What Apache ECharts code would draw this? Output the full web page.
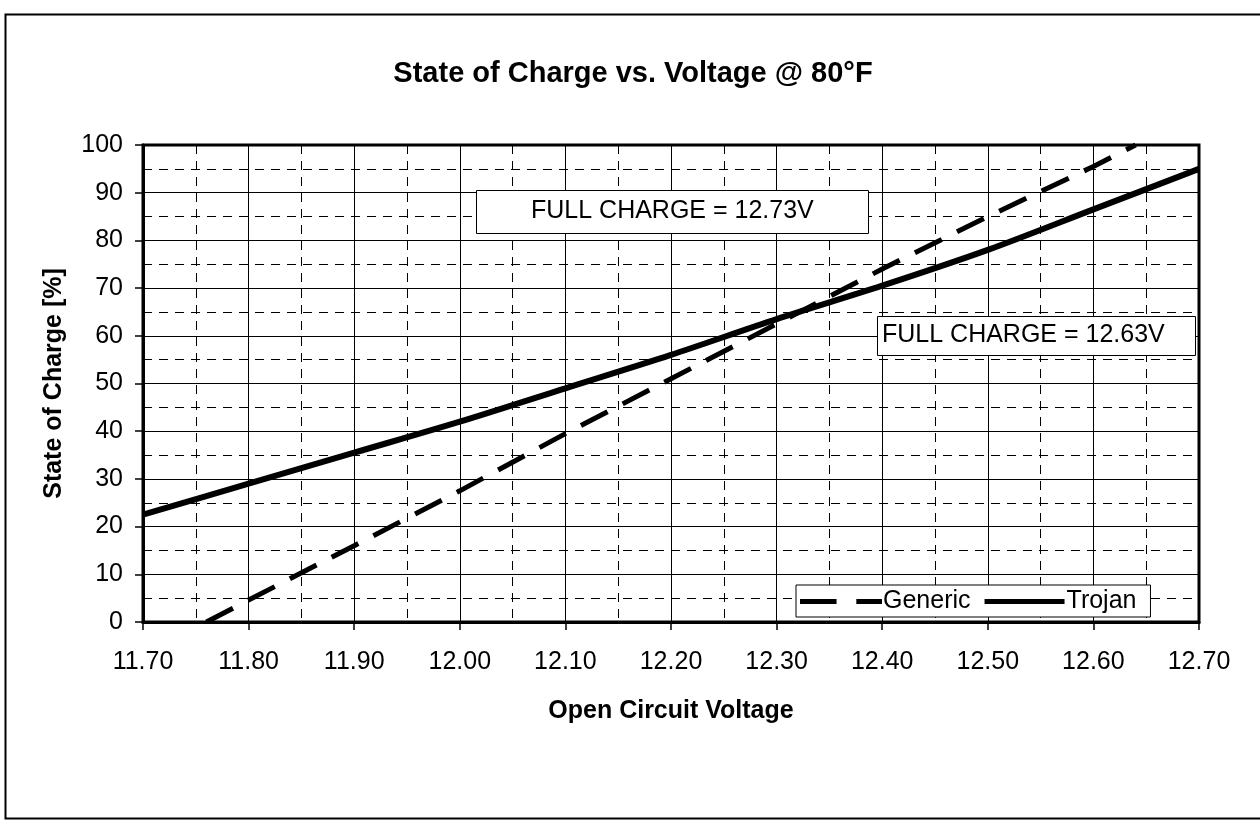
<!DOCTYPE html>
<html>
<head>
<meta charset="utf-8">
<script src="https://cdn.jsdelivr.net/npm/echarts@6/dist/echarts.min.js"></script>
<style>
  html, body { margin: 0; padding: 0; background: #fff; }
  #chart { width: 1260px; height: 821px; }
</style>
</head>
<body>
<div id="chart"></div>
<script>
// data
var genericVolts = [11.76, 11.80, 11.90, 12.00, 12.10, 12.20, 12.30, 12.40, 12.50, 12.60, 12.64];
var genericSoc   = [0, 4.6, 16, 27.5, 39.5, 51, 62.5, 74, 85, 95.5, 100];
var trojanVolts  = [11.70, 11.80, 11.90, 12.00, 12.10, 12.20, 12.30, 12.40, 12.50, 12.60, 12.70];
var trojanSoc    = [22.5, 29, 35.5, 42, 49, 56, 63.5, 70.5, 78, 86.5, 95];
var notes = ['FULL CHARGE = 12.73V', 'FULL CHARGE = 12.63V'];

function pairs(xs, ys) {
  return xs.map(function (x, i) { return [x, ys[i]]; });
}

var myChart = echarts.init(document.getElementById('chart'));
var font = '"Liberation Sans", Arial, sans-serif';

var option = {
  backgroundColor: '#fff',
  animation: false,
  title: {
    text: 'State of Charge vs. Voltage @ 80°F',
    left: 628, top: 54, textAlign: 'center',
    textStyle: { fontFamily: font, fontSize: 29, fontWeight: 'bold', color: '#000' }
  },
  grid: {
    left: 143, right: 61, top: 145, bottom: 199,
    show: true, borderColor: '#000', borderWidth: 3
  },
  legend: {
    data: [
      { name: 'Generic', icon: 'path://M0,0H37V5H0Z M57,0H83V5H57Z' },
      { name: 'Trojan', icon: 'path://M0,0H80V5H0Z' }
    ],
    left: 796, top: 585,
    padding: [4, 14, 3, 4],
    itemGap: 14,
    itemWidth: 82, itemHeight: 5,
    borderColor: '#000', borderWidth: 1, backgroundColor: '#fff',
    textStyle: { fontFamily: font, fontSize: 25, color: '#000', padding: [0, 0, 0, -4] }
  },
  xAxis: {
    type: 'value', min: 11.7, max: 12.7, interval: 0.1,
    name: 'Open Circuit Voltage', nameLocation: 'middle', nameGap: 77,
    nameTextStyle: { fontFamily: font, fontSize: 25, fontWeight: 'bold', color: '#000' },
    axisLine: { lineStyle: { color: '#000', width: 3 } },
    axisTick: { show: true, length: 8, lineStyle: { color: '#000', width: 1.5 } },
    axisLabel: { fontFamily: font, fontSize: 25, color: '#000', margin: 28,
      formatter: function (v) { return v.toFixed(2); } },
    splitLine: { show: true, lineStyle: { color: '#000', width: 1 } },
    minorTick: { show: false, splitNumber: 2 },
    minorSplitLine: { show: true, lineStyle: { color: '#000', width: 1, type: [9, 7] } }
  },
  yAxis: {
    type: 'value', min: 0, max: 100, interval: 10,
    name: 'State of Charge [%]', nameLocation: 'middle', nameGap: 76,
    nameTextStyle: { fontFamily: font, fontSize: 25, fontWeight: 'bold', color: '#000' },
    axisLine: { show: true, lineStyle: { color: '#000', width: 3 } },
    axisTick: { show: true, length: 8, lineStyle: { color: '#000', width: 1.5 } },
    axisLabel: { fontFamily: font, fontSize: 25, color: '#000', margin: 20 },
    splitLine: { show: true, lineStyle: { color: '#000', width: 1 } },
    minorTick: { show: false, splitNumber: 2 },
    minorSplitLine: { show: true, lineStyle: { color: '#000', width: 1, type: [9, 7] } }
  },
  series: [
    {
      name: 'Generic', type: 'line', showSymbol: false, symbol: 'none',
      data: pairs(genericVolts, genericSoc),
      lineStyle: { color: '#000', width: 5, type: [30, 17] },
      itemStyle: { color: '#000' },
      z: 3
    },
    {
      name: 'Trojan', type: 'line', showSymbol: false, symbol: 'none', smooth: 0.3,
      data: pairs(trojanVolts, trojanSoc),
      lineStyle: { color: '#000', width: 6 },
      itemStyle: { color: '#000' },
      z: 4
    }
  ],
  graphic: [
    {
      type: 'rect', left: 3, top: 12, silent: true, z: -1,
      shape: { width: 1262, height: 804 },
      style: { fill: 'none', stroke: '#000', lineWidth: 2 }
    },
    {
      type: 'rect', left: 476, top: 190, z: 10,
      shape: { width: 392, height: 43 },
      style: { fill: '#fff', stroke: '#000', lineWidth: 1 }
    },
    {
      type: 'text', left: 531, top: 199, z: 11,
      style: { text: notes[0], font: '25px ' + font, fill: '#000' }
    },
    {
      type: 'rect', left: 877, top: 316, z: 10,
      shape: { width: 318, height: 39 },
      style: { fill: '#fff', stroke: '#000', lineWidth: 1 }
    },
    {
      type: 'text', left: 882, top: 323, z: 11,
      style: { text: notes[1], font: '25px ' + font, fill: '#000' }
    }
  ]
};

myChart.setOption(option);
</script>
</body>
</html>
